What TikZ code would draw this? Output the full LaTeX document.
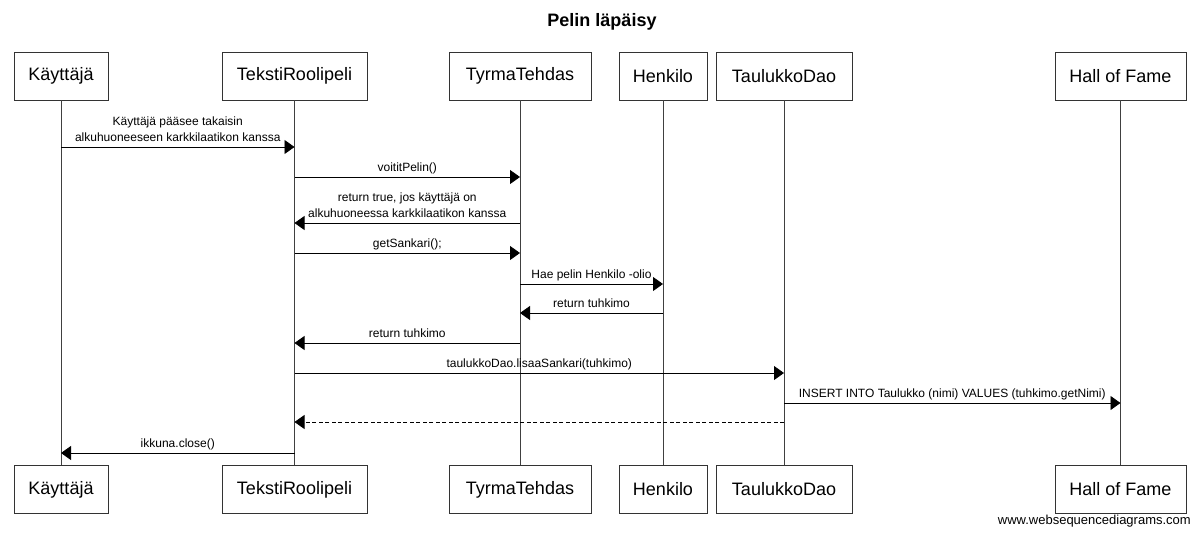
\documentclass[tikz,border=0pt]{standalone}
\usepackage{fontspec}
\setmainfont{Liberation Sans}
\usetikzlibrary{arrows.meta}
\begin{document}
\begin{tikzpicture}[x=1pt,y=-1pt,
  actor/.style={draw=black!80,line width=0.9pt,minimum height=48pt,inner sep=0pt,font=\fontsize{18}{21}\selectfont},
  life/.style={draw=black!75,line width=0.9pt},
  msg/.style={draw=black,line width=0.8pt,-{Triangle[length=10pt,width=14pt]}},
  ret/.style={msg,dash pattern=on 4pt off 2.5pt},
  lbl/.style={midway,above=5pt,inner sep=0pt,text depth=0pt,align=center,font=\fontsize{12}{16.5}\selectfont}]
\useasboundingbox (0,0) rectangle (1200,538);
\node[font=\bfseries\fontsize{18}{21}\selectfont,anchor=base] (title) at (602,27) {Pelin läpäisy};
% top actors
\node[actor,minimum width=94pt]  (k1) at (61,76) {Käyttäjä};
\node[actor,minimum width=145pt] (t1) at (294.5,76) {TekstiRoolipeli};
\node[actor,minimum width=142pt] (y1) at (520,76) {TyrmaTehdas};
\node[actor,minimum width=88pt]  (h1) at (663,76) {Henkilo};
\node[actor,minimum width=136pt] (d1) at (784,76) {TaulukkoDao};
\node[actor,minimum width=131pt] (f1) at (1120.5,76) {Hall of Fame};
% bottom actors
\node[actor,minimum width=94pt]  (k2) at (61,489.5) {Käyttäjä};
\node[actor,minimum width=145pt] (t2) at (294.5,489.5) {TekstiRoolipeli};
\node[actor,minimum width=142pt] (y2) at (520,489.5) {TyrmaTehdas};
\node[actor,minimum width=88pt]  (h2) at (663,489.5) {Henkilo};
\node[actor,minimum width=136pt] (d2) at (784,489.5) {TaulukkoDao};
\node[actor,minimum width=131pt] (f2) at (1120.5,489.5) {Hall of Fame};
% lifelines
\foreach \a in {k,t,y,h,d,f} \draw[life] (\a1.south) -- (\a2.north);
% messages
\draw[msg] (k1.south |- 0,147) -- node[lbl]{Käyttäjä pääsee takaisin\\alkuhuoneeseen karkkilaatikon kanssa} (t1.south |- 0,147);
\draw[msg] (t1.south |- 0,177) -- node[lbl]{voititPelin()} (y1.south |- 0,177);
\draw[msg] (y1.south |- 0,223) -- node[lbl]{return true, jos käyttäjä on\\alkuhuoneessa karkkilaatikon kanssa} (t1.south |- 0,223);
\draw[msg] (t1.south |- 0,253) -- node[lbl]{getSankari();} (y1.south |- 0,253);
\draw[msg] (y1.south |- 0,284) -- node[lbl]{Hae pelin Henkilo -olio} (h1.south |- 0,284);
\draw[msg] (h1.south |- 0,313) -- node[lbl]{return tuhkimo} (y1.south |- 0,313);
\draw[msg] (y1.south |- 0,343) -- node[lbl]{return tuhkimo} (t1.south |- 0,343);
\draw[msg] (t1.south |- 0,373) -- node[lbl]{taulukkoDao.lisaaSankari(tuhkimo)} (d1.south |- 0,373);
\draw[msg] (d1.south |- 0,403) -- node[lbl]{INSERT INTO Taulukko (nimi) VALUES (tuhkimo.getNimi)} (f1.south |- 0,403);
\draw[ret] (d1.south |- 0,422) -- (t1.south |- 0,422);
\draw[msg] (t1.south |- 0,453) -- node[lbl]{ikkuna.close()} (k1.south |- 0,453);
% watermark
\node[anchor=base east,inner sep=0pt,font=\fontsize{13}{15}\selectfont] (wm) at (1191,524) {www.websequencediagrams.com};
\end{tikzpicture}
\end{document}
